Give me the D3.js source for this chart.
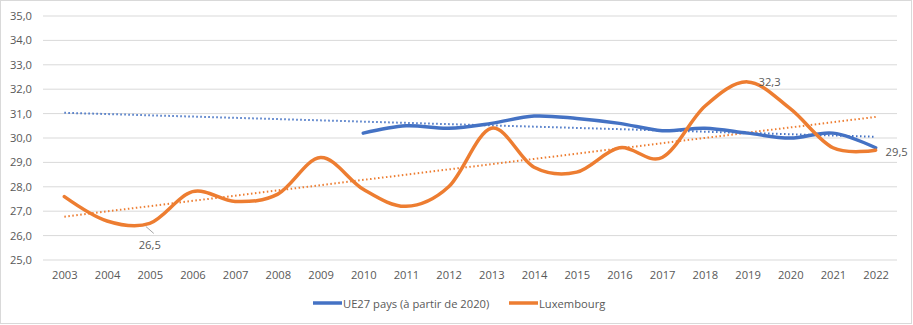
<!DOCTYPE html>
<html>
<head>
<meta charset="utf-8">
<script src="https://cdn.jsdelivr.net/npm/d3@7"></script>
<style>
html,body{margin:0;padding:0;background:#fff;}
text{font-family:"Open Sans","Liberation Sans",sans-serif;fill:#595959;}
</style>
</head>
<body>
<svg id="chart" width="913" height="325"></svg>
<script>
const years = ["2003","2004","2005","2006","2007","2008","2009","2010","2011","2012","2013","2014","2015","2016","2017","2018","2019","2020","2021","2022"];
const ue27 = [null,null,null,null,null,null,null,30.2,30.5,30.4,30.6,30.9,30.8,30.6,30.3,30.4,30.2,30.0,30.2,29.6];
const lux = [27.6,26.6,26.5,27.8,27.4,27.7,29.2,27.9,27.2,28.0,30.4,28.8,28.6,29.6,29.2,31.3,32.3,31.2,29.6,29.5];
const yTicks = [25,26,27,28,29,30,31,32,33,34,35];
const seriesNames = ["UE27 pays (à partir de 2020)","Luxembourg"];
const colors = ["#4472C4","#ED7D31"];
const labelled = [{s:1,i:2,dx:0,dy:21,leader:true},{s:1,i:16,dx:22,dy:0},{s:1,i:19,dx:21,dy:1}];
const FS = 11.2;

const svg = d3.select("#chart");
svg.append("rect").attr("x",0.5).attr("y",0.5).attr("width",911).attr("height",323)
  .attr("fill","#fff").attr("stroke","#d9d9d9");

const pLeft=43, pRight=897, pTop=16, pBottom=260;
const x = d3.scalePoint().domain(years).range([pLeft,pRight]).padding(0.5);
const y = d3.scaleLinear().domain([25,35]).range([pBottom,pTop]);

// gridlines
svg.append("g").selectAll("line").data(yTicks).join("line")
  .attr("x1",pLeft).attr("x2",pRight).attr("y1",d=>y(d)).attr("y2",d=>y(d))
  .attr("stroke","#d9d9d9").attr("stroke-width",1);

const fmt = d => d.toFixed(1).replace(".",",");
const yAxis = d3.axisLeft(y).tickValues(yTicks).tickFormat(fmt).tickSize(0).tickPadding(11);
svg.append("g").attr("transform",`translate(${pLeft},0)`).call(yAxis)
  .call(g=>g.select(".domain").remove())
  .selectAll("text").attr("font-size",FS).style("font-family",'"Open Sans","Liberation Sans",sans-serif').attr("fill","#595959");

const xAxis = d3.axisBottom(x).tickSize(0).tickPadding(11);
svg.append("g").attr("transform",`translate(0,${pBottom})`).call(xAxis)
  .call(g=>g.select(".domain").remove())
  .selectAll("text").attr("font-size",FS).style("font-family",'"Open Sans","Liberation Sans",sans-serif').attr("fill","#595959");

// trendlines
const allSeries=[ue27,lux];
allSeries.forEach((arr,si)=>{
  const pts = arr.map((v,i)=>[i+1,v]).filter(p=>p[1]!=null);
  const mx = d3.mean(pts,p=>p[0]), my=d3.mean(pts,p=>p[1]);
  const b = d3.sum(pts,p=>(p[0]-mx)*(p[1]-my))/d3.sum(pts,p=>(p[0]-mx)**2);
  const a = my - b*mx;
  svg.append("line")
    .attr("x1",x(years[0])).attr("y1",y(a+b*1))
    .attr("x2",x(years[years.length-1])).attr("y2",y(a+b*years.length))
    .attr("stroke",colors[si]).attr("stroke-width",2).attr("stroke-dasharray","1.5,2.5")
    .attr("stroke-linecap","butt");
});

// lines
const line = d3.line().defined(d=>d.v!=null).x(d=>x(d.year)).y(d=>y(d.v)).curve(d3.curveCardinal.tension(0));
allSeries.forEach((arr,si)=>{
  svg.append("path").datum(arr.map((v,i)=>({year:years[i],v})))
    .attr("d",line).attr("fill","none").attr("stroke",colors[si]).attr("stroke-width",3.5)
    .attr("stroke-linecap","round").attr("stroke-linejoin","round");
});

// data labels
labelled.forEach(l=>{
  const px=x(years[l.i]), py=y(allSeries[l.s][l.i]);
  if(l.leader){
    svg.append("line").attr("x1",px-4).attr("y1",py+3).attr("x2",px+4).attr("y2",py+10)
      .attr("stroke","#a6a6a6").attr("stroke-width",1);
  }
  svg.append("text").attr("x",px+l.dx).attr("y",py+l.dy).attr("text-anchor","middle")
    .attr("dominant-baseline","central").attr("font-size",FS).text(fmt(allSeries[l.s][l.i]));
});

// legend
const legend = svg.append("g");
const legX=[313,509], legY=303;
seriesNames.forEach((n,i)=>{
  legend.append("line").attr("x1",legX[i]).attr("x2",legX[i]+29).attr("y1",legY).attr("y2",legY)
    .attr("stroke",colors[i]).attr("stroke-width",3.5);
  legend.append("text").attr("x",legX[i]+30).attr("y",legY).attr("dominant-baseline","central")
    .attr("font-size",FS).text(n);
});
</script>
</body>
</html>
